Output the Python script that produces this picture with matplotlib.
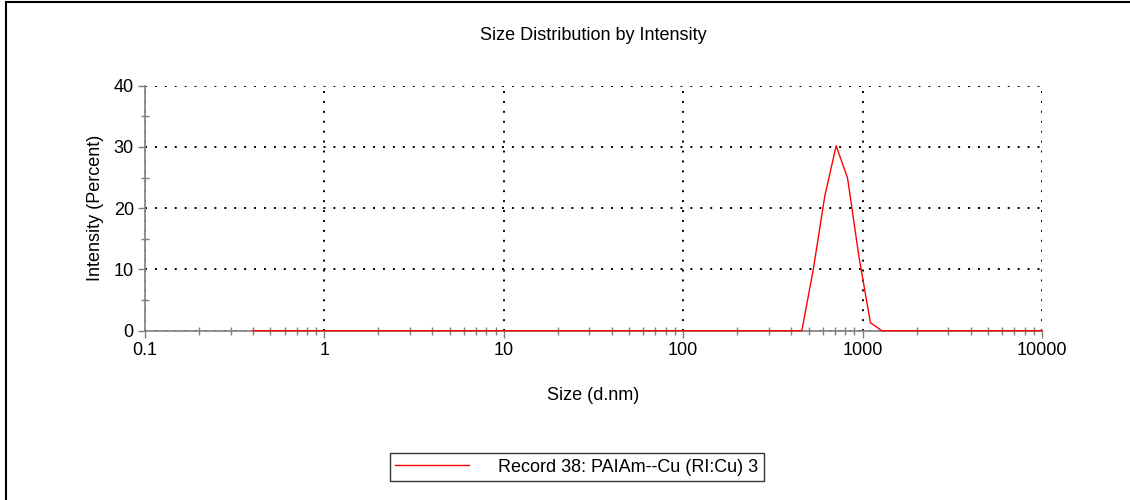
import matplotlib
matplotlib.use('Agg')
import matplotlib.pyplot as plt
from matplotlib.lines import Line2D
from matplotlib.ticker import LogLocator, FixedLocator, NullFormatter

plt.rcParams['font.family'] = ['Liberation Sans', 'DejaVu Sans']

# size bins (d.nm) and intensity (%)
sizes = [0.4, 458.7, 531.2, 615.1, 712.4, 825.0, 955.4, 1106.0, 1281.0, 10000.0]
intensity = [0.0, 0.0, 10.0, 21.9, 30.2, 24.9, 12.0, 1.3, 0.0, 0.0]

x_ticks = [0.1, 1, 10, 100, 1000, 10000]
x_tick_labels = ['0.1', '1', '10', '100', '1000', '10000']
y_ticks = [0, 10, 20, 30, 40]
record_label = 'Record 38: PAIAm--Cu (RI:Cu) 3'

grey = '#7f7f7f'

fig = plt.figure(figsize=(11.3, 5.0), dpi=100)
ax = fig.add_axes([0.1283, 0.3386, 0.7938, 0.49])

line, = ax.plot(sizes, intensity, color='red', lw=1.0, zorder=3, clip_on=False)

ax.set_xscale('log')
ax.set_xlim(0.1, 10000)
ax.set_ylim(0, 40)
ax.xaxis.set_major_locator(FixedLocator(x_ticks))
ax.set_xticklabels(x_tick_labels)
ax.xaxis.set_minor_locator(LogLocator(base=10, subs=range(2, 10)))
ax.xaxis.set_minor_formatter(NullFormatter())
ax.yaxis.set_major_locator(FixedLocator(y_ticks))
ax.yaxis.set_minor_locator(FixedLocator([5, 15, 25, 35]))

ax.tick_params(axis='both', which='major', direction='out', length=5, width=1,
               color=grey, labelsize=13, pad=3)
ax.tick_params(axis='both', which='minor', direction='inout', length=6, width=1,
               color=grey)

for side in ['top', 'right']:
    ax.spines[side].set_visible(False)
for side in ['left', 'bottom']:
    ax.spines[side].set_color(grey)
    ax.spines[side].set_linewidth(1.2)
    ax.spines[side].set_zorder(2)

ax.grid(True, which='major', color='black', lw=1.4, linestyle=(0, (1, 4.1)))
ax.set_axisbelow(True)

ax.set_title('Size Distribution by Intensity', fontsize=13, pad=33)
ax.set_xlabel('Size (d.nm)', fontsize=13, labelpad=20)
ax.set_ylabel('Intensity (Percent)', fontsize=13, labelpad=7)

leg = fig.legend([line], [record_label], loc='center',
                 bbox_to_anchor=(0.5106, 0.066), fontsize=13, frameon=True,
                 fancybox=False, edgecolor='black', handlelength=4.1,
                 handletextpad=1.6, borderpad=0.3, borderaxespad=0)
leg.get_frame().set_linewidth(1.0)

# outer frame (left and top edges only)
fig.add_artist(Line2D([0.0055, 0.0055], [0, 0.997], transform=fig.transFigure,
                      color='black', lw=1.5))
fig.add_artist(Line2D([0.0055, 1.0], [0.997, 0.997], transform=fig.transFigure,
                      color='black', lw=1.5))

fig.savefig('out.png', dpi=100, facecolor='white')
